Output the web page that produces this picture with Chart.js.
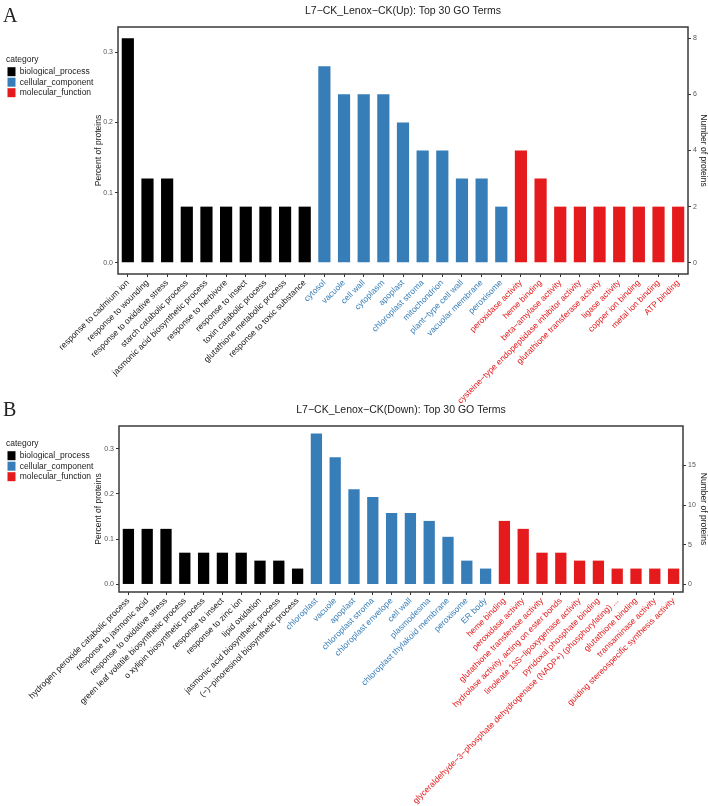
<!DOCTYPE html>
<html>
<head>
<meta charset="utf-8">
<script src="https://cdn.jsdelivr.net/npm/chart.js@4.4.1/dist/chart.umd.min.js"></script>
<style>
  html, body { margin: 0; padding: 0; background: #fff; }
  body { width: 708px; height: 806px; position: relative; overflow: hidden; }
  .panel { position: absolute; left: 0; width: 708px; }
  #wrapA { top: 0; height: 404px; }
  #wrapB { top: 396px; height: 410px; }
  .letter { position: absolute; font-family: 'Liberation Serif', serif; font-size: 20px; line-height: 20px; color: #222; }
</style>
</head>
<body>
<div class="panel" id="wrapA"><canvas id="chartA"></canvas></div>
<div class="panel" id="wrapB"><canvas id="chartB"></canvas></div>
<div class="letter" style="left:3px;top:5px">A</div>
<div class="letter" style="left:3px;top:399px">B</div>
<script>
const categoryNames = ['biological_process', 'cellular_component', 'molecular_function'];
const categoryColors = ['#000000', '#377EB8', '#E41A1C'];
const labelColors = ['#1a1a1a', '#377EB8', '#E41A1C'];

// panel A: up-regulated
const titleA = 'L7\u2212CK_Lenox\u2212CK(Up): Top 30 GO Terms';
const bpTermsA = ['response to cadmium ion', 'response to wounding', 'response to oxidative stress',
  'starch catabolic process', 'jasmonic acid biosynthetic process', 'response to herbivore',
  'response to insect', 'toxin catabolic process', 'glutathione metabolic process',
  'response to toxic substance'];
const bpCountsA = [8, 3, 3, 2, 2, 2, 2, 2, 2, 2];
const ccTermsA = ['cytosol', 'vacuole', 'cell wall', 'cytoplasm', 'apoplast', 'chloroplast stroma',
  'mitochondrion', 'plant\u2212type cell wall', 'vacuolar membrane', 'peroxisome'];
const ccCountsA = [7, 6, 6, 6, 5, 4, 4, 3, 3, 2];
const mfTermsA = ['peroxidase activity', 'heme binding', 'beta\u2212amylase activity',
  'cysteine\u2212type endopeptidase inhibitor activity', 'glutathione transferase activity',
  'ligase activity', 'copper ion binding', 'metal ion binding', 'ATP binding'];
const mfCountsA = [4, 3, 2, 2, 2, 2, 2, 2, 2];
const totalA = 25;
const countRangeA = [-0.4, 8.4];
const countTicksA = [0, 2, 4, 6, 8];

// panel B: down-regulated
const titleB = 'L7\u2212CK_Lenox\u2212CK(Down): Top 30 GO Terms';
const bpTermsB = ['hydrogen peroxide catabolic process', 'response to jasmonic acid',
  'response to oxidative stress', 'green leaf volatile biosynthetic process',
  'o xylipin biosynthetic process', 'response to insect', 'response to zinc ion', 'lipid oxidation',
  'jasmonic acid biosynthetic process', '(\u2212)\u2212pinoresinol biosynthetic process'];
const bpCountsB = [7, 7, 7, 4, 4, 4, 4, 3, 3, 2];
const ccTermsB = ['chloroplast', 'vacuole', 'apoplast', 'chloroplast stroma', 'chloroplast envelope',
  'cell wall', 'plasmodesma', 'chloroplast thylakoid membrane', 'peroxisome', 'ER body'];
const ccCountsB = [19, 16, 12, 11, 9, 9, 8, 6, 3, 2];
const mfTermsB = ['heme binding', 'peroxidase activity', 'glutathione transferase activity',
  'hydrolase activity, acting on ester bonds', 'linoleate 13S\u2212lipoxygenase activity',
  'pyridoxal phosphate binding',
  'glyceraldehyde\u22123\u2212phosphate dehydrogenase (NADP+) (phosphorylating) ...',
  'glutathione binding', 'transaminase activity', 'guiding stereospecific synthesis activity'];
const mfCountsB = [8, 7, 4, 4, 3, 3, 2, 2, 2, 2];
const totalB = 57;
const countRangeB = [-0.95, 19.95];
const countTicksB = [0, 5, 10, 15];

const percentTicks = [0, 0.1, 0.2, 0.3];

Chart.defaults.font.family = "'Liberation Sans', Arial, sans-serif";

const frame = {
  id: 'frame',
  afterDatasetsDraw(chart) {
    const { ctx, chartArea: a } = chart;
    ctx.save();
    ctx.strokeStyle = '#3a3a3a';
    ctx.lineWidth = 1.5;
    ctx.strokeRect(a.left, a.top, a.right - a.left, a.bottom - a.top);
    ctx.restore();
  }
};

function drawPanel(id, p) {
  const groups = [p.bp, p.cc, p.mf];
  const labels = [].concat(...groups.map(g => g.terms));
  const sizes = groups.map(g => g.terms.length);
  const groupOf = i => (i < sizes[0] ? 0 : i < sizes[0] + sizes[1] ? 1 : 2);

  let start = 0;
  const datasets = groups.map((g, k) => {
    const data = labels.map((_, i) => (i >= start && i < start + g.counts.length ? g.counts[i - start] : null));
    start += g.counts.length;
    return {
      label: categoryNames[k],
      data: data,
      backgroundColor: categoryColors[k],
      borderWidth: 0,
      grouped: false,
      barPercentage: p.barPct,
      categoryPercentage: 1,
      yAxisID: 'y2'
    };
  });

  const tickMarks = { display: true, drawOnChartArea: false, drawTicks: true, tickLength: 3, color: '#333' };

  new Chart(document.getElementById(id), {
    type: 'bar',
    data: { labels, datasets },
    plugins: [frame],
    options: {
      responsive: true,
      maintainAspectRatio: false,
      animation: false,
      layout: { padding: { left: 6, right: 0, top: 0, bottom: 0 } },
      plugins: {
        tooltip: { enabled: false },
        title: {
          display: true, text: p.title, fullSize: false, color: '#222',
          font: { size: 10.5, weight: 'normal' },
          padding: { top: p.titleTop, bottom: p.titleBottom }
        },
        legend: {
          position: 'left', align: 'start', maxWidth: 88,
          title: {
            display: true, text: 'category', position: 'start', color: '#222',
            font: { size: 8.5 }, padding: { top: p.legendTop, bottom: 0.5 }
          },
          labels: { boxWidth: 8, boxHeight: 9, padding: 1.5, color: '#222', font: { size: 8.5 } }
        }
      },
      scales: {
        x: {
          offset: true,
          grid: Object.assign({ offset: false }, tickMarks),
          border: { display: false },
          ticks: {
            autoSkip: false, maxRotation: 45, minRotation: 45, padding: 1,
            font: { size: 8.5 },
            color: c => labelColors[groupOf(c.index)]
          },
          afterFit: s => { s.height = p.xHeight; }
        },
        y: {
          position: 'left',
          min: p.range[0] / p.total,
          max: p.range[1] / p.total,
          grid: tickMarks,
          border: { display: false },
          afterBuildTicks: s => { s.ticks = percentTicks.map(v => ({ value: v })); },
          ticks: { font: { size: 7 }, color: '#555', padding: 2, callback: v => v.toFixed(1) },
          title: { display: true, text: 'Percent of proteins', color: '#222', font: { size: 8.5 }, padding: { top: 0, bottom: 0 } },
          afterFit: s => { s.width = p.yWidth; }
        },
        y2: {
          position: 'right',
          min: p.range[0],
          max: p.range[1],
          grid: tickMarks,
          border: { display: false },
          afterBuildTicks: s => { s.ticks = p.countTicks.map(v => ({ value: v })); },
          ticks: { font: { size: 7 }, color: '#555', padding: 2 },
          title: { display: true, text: 'Number of proteins', color: '#222', font: { size: 8.5 }, padding: { top: 0, bottom: 0 } },
          afterFit: s => { s.width = p.y2Width; }
        }
      }
    }
  });
}

drawPanel('chartA', {
  title: titleA,
  bp: { terms: bpTermsA, counts: bpCountsA },
  cc: { terms: ccTermsA, counts: ccCountsA },
  mf: { terms: mfTermsA, counts: mfCountsA },
  total: totalA, range: countRangeA, countTicks: countTicksA,
  barPct: 0.62, titleTop: 4.7, titleBottom: 9.7, legendTop: 55,
  xHeight: 130, yWidth: 24, y2Width: 20
});

drawPanel('chartB', {
  title: titleB,
  bp: { terms: bpTermsB, counts: bpCountsB },
  cc: { terms: ccTermsB, counts: ccCountsB },
  mf: { terms: mfTermsB, counts: mfCountsB },
  total: totalB, range: countRangeB, countTicks: countTicksB,
  barPct: 0.6, titleTop: 7.7, titleBottom: 9.7, legendTop: 43,
  xHeight: 214, yWidth: 25, y2Width: 25
});
</script>
</body>
</html>
